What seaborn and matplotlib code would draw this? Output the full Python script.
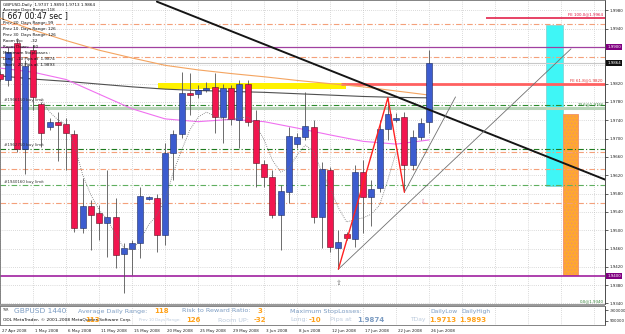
import numpy as np
import pandas as pd
import matplotlib
matplotlib.use("Agg")
import matplotlib.pyplot as plt
import matplotlib.transforms as mtrans
from matplotlib.patches import Rectangle
import seaborn as sns

# ---------------- data ----------------
opens = [1.9841, 1.9828, 1.9909, 1.9677, 1.9893, 1.9776, 1.9725, 1.9736, 1.9732, 1.9710,
         1.9505, 1.9553, 1.9538, 1.9516, 1.9529, 1.9448, 1.9459, 1.9472, 1.9568, 1.9570,
         1.9490, 1.9669, 1.9710, 1.9800, 1.9797, 1.9806, 1.9813, 1.9747, 1.9811, 1.9741,
         1.9819, 1.9741, 1.9645, 1.9616, 1.9533, 1.9583, 1.9688, 1.9704, 1.9725, 1.9529,
         1.9631, 1.9461, 1.9492, 1.9481, 1.9627, 1.9573, 1.9592, 1.9721, 1.9741, 1.9747,
         1.9642, 1.9704, 1.9737]
highs = [1.9848, 1.9900, 1.9920, 1.9872, 1.9904, 1.9780, 1.9745, 1.9758, 1.9745, 1.9719,
         1.9614, 1.9566, 1.9555, 1.9631, 1.9570, 1.9472, 1.9479, 1.9594, 1.9575, 1.9579,
         1.9690, 1.9719, 1.9845, 1.9843, 1.9817, 1.9824, 1.9843, 1.9819, 1.9817, 1.9828,
         1.9828, 1.9762, 1.9653, 1.9631, 1.9599, 1.9725, 1.9712, 1.9802, 1.9741, 1.9649,
         1.9638, 1.9500, 1.9496, 1.9642, 1.9653, 1.9610, 1.9741, 1.9789, 1.9756, 1.9758,
         1.9719, 1.9745, 1.9893]
lows = [1.9826, 1.9815, 1.9671, 1.9623, 1.9762, 1.9682, 1.9719, 1.9651, 1.9631, 1.9496,
        1.9494, 1.9457, 1.9479, 1.9442, 1.9418, 1.9363, 1.9402, 1.9439, 1.9566, 1.9452,
        1.9468, 1.9610, 1.9701, 1.9752, 1.9789, 1.9802, 1.9712, 1.9690, 1.9730, 1.9679,
        1.9728, 1.9594, 1.9594, 1.9527, 1.9457, 1.9559, 1.9679, 1.9697, 1.9516, 1.9461,
        1.9452, 1.9415, 1.9479, 1.9463, 1.9494, 1.9509, 1.9583, 1.9697, 1.9736, 1.9583,
        1.9631, 1.9697, 1.9713]
closes = [1.9830, 1.9889, 1.9677, 1.9859, 1.9791, 1.9712, 1.9736, 1.9730, 1.9712, 1.9505,
          1.9553, 1.9533, 1.9516, 1.9529, 1.9446, 1.9461, 1.9472, 1.9575, 1.9573, 1.9490,
          1.9669, 1.9710, 1.9800, 1.9795, 1.9806, 1.9811, 1.9747, 1.9811, 1.9743, 1.9819,
          1.9736, 1.9647, 1.9616, 1.9533, 1.9586, 1.9706, 1.9704, 1.9728, 1.9529, 1.9634,
          1.9463, 1.9474, 1.9483, 1.9627, 1.9573, 1.9590, 1.9721, 1.9754, 1.9745, 1.9642,
          1.9704, 1.9734, 1.9864]

date_tick_bars = [0, 4, 8, 12, 16, 20, 24, 28, 32, 36, 40, 44, 48, 52]
date_tick_labels = ["27 Apr 2008", "1 May 2008", "6 May 2008", "11 May 2008", "15 May 2008",
                    "20 May 2008", "25 May 2008", "29 May 2008", "3 Jun 2008", "8 Jun 2008",
                    "12 Jun 2008", "17 Jun 2008", "22 Jun 2008", "26 Jun 2008"]
grid_bars = [0, 4, 8, 12, 16, 20, 24, 28, 32, 36, 40, 44, 48, 52, 56, 60, 64, 68, 72]

price_grid = [1.9980, 1.9940, 1.9900, 1.9860, 1.9820, 1.9780, 1.9740, 1.9700, 1.9660,
              1.9620, 1.9580, 1.9540, 1.9500, 1.9460, 1.9420, 1.9380, 1.9340]
price_ticks = [1.9980, 1.9940, 1.9820, 1.9780, 1.9740, 1.9700, 1.9660, 1.9620, 1.9580,
               1.9540, 1.9500, 1.9460, 1.9420, 1.9380, 1.9340]
price_tick_labels = ["1.9980", "1.9940", "1.9820", "1.9780", "1.9740", "1.9700", "1.9660",
                     "1.9620", "1.9580", "1.9540", "1.9500", "1.9460", "1.9420", "1.9380",
                     "1.9340"]

ma_bars = [0, 4, 8, 12, 16, 20, 24, 28, 32, 36, 40, 44, 48, 52]
ma_orange = [1.9963, 1.9937, 1.9914, 1.9893, 1.9876, 1.9860, 1.9850, 1.9842, 1.9835,
             1.9827, 1.9820, 1.9813, 1.9804, 1.9795]
ma_dark = [1.9837, 1.9830, 1.9825, 1.9819, 1.9813, 1.9808, 1.9805, 1.9803, 1.9801,
           1.9798, 1.9795, 1.9792, 1.9790, 1.9789]
ma_pink = [1.9854, 1.9845, 1.9829, 1.9797, 1.9765, 1.9743, 1.9737, 1.9742, 1.9737,
           1.9723, 1.9708, 1.9694, 1.9688, 1.9697]
dot_bars = list(range(5, 49))
ma_dotted = [1.9784, 1.9758, 1.9741, 1.9730, 1.9686, 1.9621, 1.9577, 1.9544, 1.9523, 1.9490,
             1.9461, 1.9457, 1.9479, 1.9512, 1.9533, 1.9566, 1.9627, 1.9675, 1.9719, 1.9747,
             1.9758, 1.9749, 1.9743, 1.9741, 1.9745, 1.9747, 1.9730, 1.9697, 1.9653, 1.9627,
             1.9636, 1.9664, 1.9686, 1.9671, 1.9627, 1.9592, 1.9549, 1.9518, 1.9523, 1.9527,
             1.9535, 1.9555, 1.9610, 1.9671]

black_tl_bars = [19.0, 73.4]
black_tl_prices = [1.9999, 1.9610]
gray_a_bars = [41, 69.2]
gray_a_prices = [1.9415, 1.9896]
gray_b_bars = [49, 55.2]
gray_b_prices = [1.9583, 1.9791]
zigzag_bars = [41, 47, 49]
zigzag_prices = [1.9415, 1.9789, 1.9583]

cyan_box_bars = [66.2, 68.2]
cyan_box_prices = [1.9597, 1.9948]
orange_box_bars = [68.2, 70.1]
orange_box_prices = [1.9402, 1.9754]
yellow_band_bars = [19.1, 41.9]
yellow_band_prices = [1.9808, 1.9821]

level_prices = [1.9964, 1.9950, 1.9900, 1.9878, 1.9864, 1.9820, 1.9773, 1.9767,
                1.9677, 1.9671, 1.9634, 1.9599, 1.9559, 1.9400]

# ---------------- styling ----------------
sns.set_theme(style="white")
plt.rcParams['font.family'] = ['DejaVu Sans']
plt.rcParams['hatch.linewidth'] = 0.6

BULL = '#3C5CCF'
BEAR = '#F2154F'
W, H = 625, 334


def pt(x, y):
    return (x / W, 1 - y / H)


fig = plt.figure(figsize=(6.25, 3.34), dpi=100)
fig.patch.set_facecolor('white')
ax = fig.add_axes([0.0, 1 - 304 / H, 605 / W, 304 / H])
axs = fig.add_axes([0.0, 9 / H, 605 / W, 19 / H], sharex=ax)

XL = (-0.02, 73.32)
ax.set_xlim(*XL)
ax.set_ylim(1.93389, 2.00026)
ax.set_facecolor('white')
axs.set_facecolor('white')
axs.set_ylim(-1, 1)

# grid
for b in grid_bars:
    ax.axvline(b, color='#B8B8B8', lw=0.5, ls=(0, (1, 2)), zorder=0)
    axs.axvline(b, color='#B8B8B8', lw=0.5, ls=(0, (1, 2)), zorder=0)
for p in price_grid:
    ax.axhline(p, color='#B8B8B8', lw=0.5, ls=(0, (1, 2)), zorder=0)

# boxes / bands
ax.add_patch(Rectangle((cyan_box_bars[0], cyan_box_prices[0]),
                       cyan_box_bars[1] - cyan_box_bars[0],
                       cyan_box_prices[1] - cyan_box_prices[0],
                       facecolor='#3FF6F6', edgecolor='#7FCFCF', lw=0.5, zorder=1))
ax.add_patch(Rectangle((orange_box_bars[0], orange_box_prices[0]),
                       orange_box_bars[1] - orange_box_bars[0],
                       orange_box_prices[1] - orange_box_prices[0],
                       facecolor='#FFA830', edgecolor='#F0906A', hatch='.....', lw=0.6, zorder=1))
ax.add_patch(Rectangle((yellow_band_bars[0], yellow_band_prices[0]),
                       yellow_band_bars[1] - yellow_band_bars[0],
                       yellow_band_prices[1] - yellow_band_prices[0],
                       facecolor='#FFF200', edgecolor='none', zorder=1))

# horizontal levels
dashdot = (0, (5, 2, 1, 2))
lvl_style = [
    dict(color='#E0103C', lw=1.1, ls='-', start=58.9),
    dict(color='#F4A07A', lw=0.8, ls=dashdot, start=XL[0]),
    dict(color='#A040A0', lw=0.9, ls='-', start=XL[0]),
    dict(color='#F4A07A', lw=0.8, ls=dashdot, start=XL[0]),
    dict(color='#C8C8C8', lw=0.8, ls='-', start=XL[0]),
    dict(color='#FF6060', lw=2.0, ls='-', start=41.3),
    dict(color='#2E8B2E', lw=0.8, ls=dashdot, start=XL[0]),
    dict(color='#B8D4B8', lw=2.2, ls='-', start=XL[0]),
    dict(color='#1E7A1E', lw=0.8, ls=dashdot, start=XL[0]),
    dict(color='#F4A07A', lw=0.8, ls=dashdot, start=XL[0]),
    dict(color='#F4A07A', lw=0.8, ls=dashdot, start=XL[0]),
    dict(color='#5FAF5F', lw=0.8, ls=dashdot, start=XL[0]),
    dict(color='#F4A07A', lw=0.8, ls=dashdot, start=XL[0]),
    dict(color='#A020A0', lw=1.2, ls='-', start=XL[0]),
]
for p, st in zip(level_prices, lvl_style):
    ax.hlines(p, st['start'], XL[1], color=st['color'], lw=st['lw'],
              linestyles=[st['ls']], zorder=2)

# moving averages
sns.lineplot(x=ma_bars, y=ma_orange, ax=ax, color='#F4A460', linewidth=0.8, zorder=3)
sns.lineplot(x=ma_bars, y=ma_dark, ax=ax, color='#505050', linewidth=0.8, zorder=3)
sns.lineplot(x=ma_bars, y=ma_pink, ax=ax, color='#F070F0', linewidth=0.8, zorder=3)
sns.lineplot(x=dot_bars, y=ma_dotted, ax=ax, color='#707070', linewidth=0.6,
             linestyle=(0, (1, 1.5)), zorder=6)

# candles
x = np.arange(len(opens))
o = np.array(opens); c = np.array(closes); h = np.array(highs); l = np.array(lows)
up = c >= o
lo = np.minimum(o, c)
hgt = np.maximum(np.abs(c - o), 0.00010)
ax.vlines(x, l, h, color='#555555', lw=0.6, zorder=4)
ax.bar(x[up], hgt[up], bottom=lo[up], width=0.72, color=BULL, edgecolor='#1C2A60',
       linewidth=0.4, zorder=5)
ax.bar(x[~up], hgt[~up], bottom=lo[~up], width=0.72, color=BEAR, edgecolor='#5A1020',
       linewidth=0.4, zorder=5)

# trend lines
sns.lineplot(x=black_tl_bars, y=black_tl_prices, ax=ax, color='#151515', linewidth=1.4, zorder=7)
sns.lineplot(x=gray_a_bars, y=gray_a_prices, ax=ax, color='#707070', linewidth=0.6, zorder=7)
sns.lineplot(x=gray_b_bars, y=gray_b_prices, ax=ax, color='#707070', linewidth=0.6, zorder=7)
sns.lineplot(x=zigzag_bars, y=zigzag_prices, ax=ax, color='#FF2222', linewidth=1.0,
             sort=False, zorder=7)

ax.text(41, 1.9385, '\u21e7', color='#707070', fontsize=5, ha='center', va='center', zorder=8)
ax.text(51.2, 1.9561, '\u21e9', color='#E07090', fontsize=4, ha='center', va='center', zorder=8)

# axes / ticks
ax.yaxis.tick_right()
ax.set_yticks(price_ticks)
ax.set_yticklabels(price_tick_labels)
ax.tick_params(axis='y', length=2, width=0.5, pad=1.5, labelsize=2.9, colors='#202020')
ax.tick_params(axis='x', bottom=False, labelbottom=False)
for sp in ax.spines.values():
    sp.set_color('#707070'); sp.set_linewidth(0.6)
ax.spines['right'].set_color('#303030')

axs.yaxis.tick_right()
axs.set_yticks([0.55, -0.55])
axs.set_yticklabels(['-900000', '900000'])
axs.tick_params(axis='y', length=2, width=0.5, pad=1.5, labelsize=2.9, colors='#202020')
axs.set_xticks(date_tick_bars)
axs.set_xticklabels(date_tick_labels)
axs.tick_params(axis='x', length=2, width=0.5, pad=1.0, labelsize=2.9, colors='#202020')
off = mtrans.ScaledTranslation(2 / 100, 0, fig.dpi_scale_trans)
for lab in axs.get_xticklabels():
    lab.set_horizontalalignment('left')
    lab.set_transform(lab.get_transform() + off)
for sp in axs.spines.values():
    sp.set_color('#707070'); sp.set_linewidth(0.6)
axs.spines['right'].set_color('#303030')
axs.set_xlim(*XL)

# separator between main chart and sub window
fig.patches.append(Rectangle(pt(0, 306), 605 / W, 2.5 / H, transform=fig.transFigure,
                             facecolor='#9A9A9A', edgecolor='none', zorder=10))

# right-axis price tags
def tag(p, s, fc):
    ax.text(1.004, p, s, transform=ax.get_yaxis_transform(), ha='left', va='center',
            color='white', fontsize=2.9, clip_on=False, zorder=20,
            bbox=dict(boxstyle='square,pad=0.25', fc=fc, ec='none'))

tag(1.9900, '1.9900', '#800080')
tag(1.9864, '1.9864', '#101010')
tag(1.9400, '1.9400', '#800080')

# level labels on chart
fig.text(*pt(603, 14), 'FE 100.0@1.9964', ha='right', va='center', color='#E0103C', fontsize=2.9)
fig.text(*pt(603, 80), 'FE 61.8@1.9820', ha='right', va='center', color='#E03030', fontsize=2.9)
fig.text(*pt(604, 104), '23.6@1.9766', ha='right', va='center', color='#2E7D32', fontsize=2.9)
fig.text(*pt(604, 301), '0.0@1.9340', ha='right', va='center', color='#2E7D32', fontsize=2.9)
fig.text(*pt(4, 100), '#1966150 buy limit', ha='left', va='center', color='#333333', fontsize=2.9)
fig.text(*pt(4, 145), '#1962750 buy limit', ha='left', va='center', color='#333333', fontsize=2.9)
fig.text(*pt(4, 182), '#1940160 buy limit', ha='left', va='center', color='#333333', fontsize=2.9)

# top-left info block
info = [
    (5, 'GBPUSD,Daily  1.9737 1.9893 1.9713 1.9864'),
    (10, 'Average Days Range:118'),
    (23, 'Prev 20  Days Range: 99'),
    (29, 'Prev 10  Days Range: 126'),
    (35, 'Prev 30  Days Range: 126'),
    (41, 'Room Up:      -32'),
    (47, 'Room Down:   80'),
    (53, 'Maximum StopLosses :'),
    (59, 'Long   -10 Pips at  1.9874'),
    (65, 'Short   20 Pips at  1.9893'),
]
for yy, s in info:
    fig.text(*pt(3, yy), s, ha='left', va='center', color='#111111', fontsize=3.0, zorder=30)
fig.text(*pt(2, 16), '[ 667 00:47 sec ]', ha='left', va='center', color='#111111',
         fontsize=5.6, zorder=30)

# bottom info panel
LBL = '#7C9CC2'
LBL2 = '#BCCBDD'
VAL = '#FFA21A'
fig.text(*pt(3, 310), 'TSR', ha='left', va='center', color='#222222', fontsize=2.3, zorder=30)
fig.text(*pt(14, 311), 'GBPUSD 1440', ha='left', va='center', color=LBL, fontsize=5.4, zorder=30)
row1 = [(78, 'Average Daily Range:', LBL, 4.6, 'normal'), (154, '118', VAL, 5.0, 'bold'),
        (182, 'Risk to Reward Ratio:', LBL, 4.6, 'normal'), (258, '3', VAL, 5.0, 'bold'),
        (290, 'Maximum StopLosses:', LBL, 4.6, 'normal'),
        (430, 'DailyLow', LBL, 4.3, 'normal'), (461, 'DailyHigh', LBL, 4.3, 'normal')]
for xx, s, col, fs, fw in row1:
    fig.text(*pt(xx, 311), s, ha='left', va='center', color=col, fontsize=fs,
             fontweight=fw, zorder=30)
row2 = [(85, '113', VAL, 5.0, 'bold'),
        (139, 'Prev 10 Days Range:', LBL2, 2.9, 'normal'), (186, '126', VAL, 5.0, 'bold'),
        (218, 'Room UP:', LBL2, 4.6, 'normal'), (254, '-32', VAL, 5.0, 'bold'),
        (290, 'Long:', LBL2, 4.6, 'normal'), (309, '-10', VAL, 5.0, 'bold'),
        (330, 'Pips at', LBL2, 4.6, 'normal'), (357, '1.9874', LBL, 5.0, 'bold'),
        (410, 'TDay', LBL2, 4.3, 'normal'), (429, '1.9713', VAL, 5.0, 'bold'),
        (459, '1.9893', VAL, 5.0, 'bold')]
for xx, s, col, fs, fw in row2:
    fig.text(*pt(xx, 320), s, ha='left', va='center', color=col, fontsize=fs,
             fontweight=fw, zorder=30)
fig.text(*pt(3, 320), 'ODL MetaTrader, \u00a9 2001-2008 MetaQuotes Software Corp.', ha='left',
         va='center', color='#111111', fontsize=3.2, zorder=31)

fig.savefig('out.png', dpi=100, facecolor='white')
